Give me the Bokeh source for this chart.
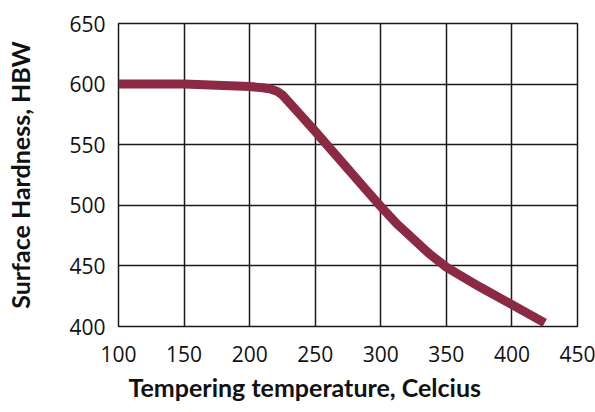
from bokeh.plotting import figure
from bokeh.embed import file_html
from bokeh.resources import INLINE
from bokeh.models import Range1d, FixedTicker, Title

temperature = [100, 150, 200, 210, 216, 221, 225, 230, 240, 250, 262, 275, 287,
               300, 312, 325, 337, 350, 375, 400, 425]
hardness = [600, 600, 598, 597, 596, 594, 591, 585, 573, 561, 546, 530, 515,
            499, 485, 472, 460, 449, 433, 418, 403]
x_ticks = [100, 150, 200, 250, 300, 350, 400, 450]
y_ticks = [400, 450, 500, 550, 600, 650]
x_title = "Tempering temperature, Celcius"
y_title = "Surface Hardness, HBW"

TICK_FONT = "Open Sans"
LABEL_FONT = "Lato"

p = figure(width=595, height=412, output_backend="svg", toolbar_location=None,
           x_range=Range1d(100, 450), y_range=Range1d(400, 650),
           min_border_left=118, min_border_right=18, min_border_top=23, min_border_bottom=86)

p.line(temperature, hardness, line_color="#8c2a44", line_width=9,
       line_join="round", line_cap="butt")

p.outline_line_color = "#1a1a1a"
p.outline_line_width = 1.5
p.background_fill_color = "white"
p.border_fill_color = "white"

for ax in (p.xaxis[0], p.yaxis[0]):
    ax.axis_line_color = None
    ax.major_tick_line_color = None
    ax.minor_tick_line_color = None
    ax.major_tick_out = 0
    ax.major_tick_in = 0
    ax.major_label_text_font = TICK_FONT
    ax.major_label_text_font_size = "21px"
    ax.major_label_text_color = "#111111"

p.xaxis.ticker = FixedTicker(ticks=x_ticks)
p.yaxis.ticker = FixedTicker(ticks=y_ticks)
p.xaxis.major_label_standoff = 19
p.yaxis.major_label_standoff = 13

p.yaxis.axis_label = y_title
p.yaxis.axis_label_text_font = LABEL_FONT
p.yaxis.axis_label_text_font_size = "25px"
p.yaxis.axis_label_text_font_style = "bold"
p.yaxis.axis_label_text_color = "#111111"
p.yaxis.axis_label_standoff = 31

p.add_layout(Title(text=x_title, align="left", offset=10, standoff=14,
                   vertical_align="top",
                   text_font=LABEL_FONT, text_font_size="25px",
                   text_font_style="bold", text_color="#111111"), "below")

p.xgrid.grid_line_color = "#1a1a1a"
p.ygrid.grid_line_color = "#1a1a1a"
p.xgrid.grid_line_width = 1.5
p.ygrid.grid_line_width = 1.5

open("out.html", "w").write(file_html(p, INLINE))
